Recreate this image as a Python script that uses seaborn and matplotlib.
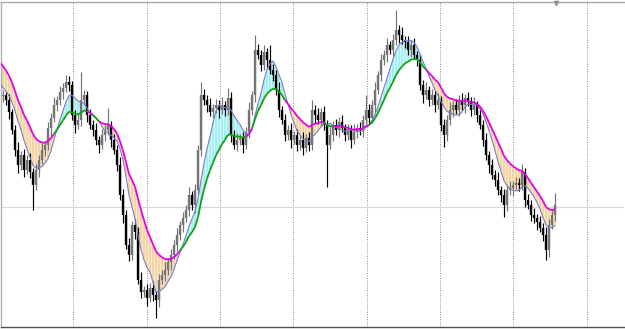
import numpy as np
import pandas as pd
import matplotlib
matplotlib.use("Agg")
import matplotlib.pyplot as plt
import seaborn as sns
from matplotlib.collections import LineCollection

# ---- data (price units) ----
prior_close = [312, 314, 310, 309, 313, 311, 308, 310, 306, 292, 276, 261, 254, 249, 244, 239, 236, 233]
close = [
    234, 229, 217, 199, 179, 164, 174, 159, 169, 157, 144, 159,
    169, 179, 184, 201, 211, 224, 229, 237, 241, 247, 244,
    214, 204, 209, 229, 234, 214, 204, 199, 189, 184, 194, 199, 204, 189, 179, 164, 134,
    114, 84, 74, 104, 97, 49, 37, 39, 31, 41, 34, 29,
    49, 54, 59, 67, 74, 84, 94, 104, 111, 119, 134, 124, 139, 179,
    234, 229, 224, 217, 221, 224, 219, 224, 219, 231, 194, 184, 189, 191, 184, 197,
    219, 234, 279, 274, 264, 277, 269, 259, 254, 239, 219, 209, 194,
    199, 189, 194, 184, 189, 181, 191, 184, 219, 214, 209, 217, 204, 184, 194, 204, 199, 207, 201, 194, 199, 189, 197, 201, 199,
    209, 219, 211, 224, 239, 254, 269, 274, 284, 279, 289, 299,
    294, 289, 287, 279, 284, 274, 269, 244, 234, 239, 229, 234, 224, 229, 204,
    194, 209, 219, 224, 219, 229, 224, 231, 227, 219, 224, 214, 204,
    189, 174, 164, 154, 149, 139, 134, 124, 139, 141, 144, 146, 144, 157, 129, 124, 114, 111, 107, 101, 94, 79, 104, 114, 124,
]
up_wick = [
    5, 4, 6, 3, 5, 8, 4, 6, 5, 7,
    4, 6, 5, 7, 4, 6, 5, 8, 4, 6,
    5, 7, 6, 4, 5, 6, 28, 5, 4, 6,
    5, 7, 4, 6, 5, 17, 4, 6, 5, 8,
    6, 5, 7, 4, 6, 5, 8, 4, 6, 5,
    7, 4, 6, 5, 8, 4, 6, 5, 7, 4,
    6, 5, 8, 4, 6, 5, 13, 6, 5, 7,
    4, 6, 5, 8, 4, 10, 6, 5, 7, 4,
    6, 5, 8, 4, 15, 6, 5, 7, 4, 15,
    6, 5, 8, 4, 6, 5, 7, 4, 6, 5,
    8, 4, 6, 10, 5, 7, 4, 6, 5, 8,
    4, 6, 5, 7, 4, 6, 5, 8, 4, 6,
    5, 15, 6, 5, 8, 4, 6, 5, 7, 4,
    6, 20, 5, 8, 4, 6, 5, 7, 4, 6,
    5, 8, 4, 6, 5, 7, 4, 6, 5, 8,
    4, 6, 5, 7, 4, 6, 5, 8, 4, 6,
    5, 7, 4, 6, 5, 8, 4, 6, 5, 7,
    4, 6, 5, 8, 4, 6, 5, 7, 4, 6,
    5, 8, 6, 5, 12,
]
down_wick = [
    6, 5, 7, 4, 6, 8, 5, 7, 4, 6,
    25, 5, 7, 4, 6, 5, 8, 4, 6, 5,
    7, 4, 6, 5, 8, 4, 6, 5, 7, 4,
    6, 5, 8, 4, 6, 5, 7, 4, 6, 5,
    8, 4, 6, 5, 7, 4, 6, 5, 8, 4,
    6, 18, 7, 4, 6, 5, 8, 4, 6, 5,
    7, 4, 6, 5, 8, 4, 6, 5, 7, 4,
    6, 5, 8, 4, 6, 5, 7, 4, 6, 5,
    8, 4, 6, 5, 7, 4, 6, 5, 8, 4,
    6, 5, 7, 4, 6, 5, 8, 4, 6, 5,
    7, 4, 6, 5, 8, 4, 6, 5, 42, 4,
    6, 5, 7, 4, 6, 5, 8, 4, 6, 5,
    7, 4, 6, 5, 8, 4, 6, 5, 7, 4,
    6, 5, 8, 4, 6, 5, 7, 4, 6, 5,
    8, 4, 6, 5, 7, 4, 6, 12, 6, 5,
    7, 4, 6, 5, 8, 4, 6, 5, 7, 4,
    6, 5, 8, 4, 6, 5, 7, 12, 6, 5,
    8, 4, 6, 5, 7, 4, 6, 5, 8, 4,
    6, 10, 7, 4, 6,
]
FAST_PERIOD = 7
SLOW_SPAN = 15
hline_price = 122

# ---- build frame ----
n_prior = len(prior_close)
all_close = prior_close + close
idx = np.arange(-n_prior + 1, len(close) + 1)
s = pd.Series(all_close, index=idx, dtype=float)
fast = s.rolling(FAST_PERIOD).mean()
slow = s.ewm(span=SLOW_SPAN, adjust=False).mean()

df = pd.DataFrame({"close": s, "open": s.shift(1), "fast": fast, "slow": slow})
bars = df.loc[1:].copy()
bars["up"] = up_wick
bars["down"] = down_wick
bars["high"] = bars[["open", "close"]].max(axis=1) + bars["up"]
bars["low"] = bars[["open", "close"]].min(axis=1) - bars["down"]

ma = df.loc[-1:].copy()
ma["x"] = ma.index.astype(float)

# ---- figure ----
sns.set_style("white")
fig = plt.figure(figsize=(6.25, 3.29), dpi=100)
ax = fig.add_axes([1.5 / 625, 2.5 / 329, 622.5 / 625, 325 / 329])
ax.set_xlim(0.5, 208)
ax.set_ylim(2.5, 327.5)

TAN_FILL = "#FCE8CC"
TAN_LINE = "#F2D09E"
CYAN_FILL = "#D2FAFA"
CYAN_LINE = "#98ECF0"

down_mask = (ma["slow"] >= ma["fast"]).values
ax.fill_between(ma["x"], ma["fast"], ma["slow"], where=down_mask, interpolate=True,
                color=TAN_FILL, lw=0, zorder=1)
ax.fill_between(ma["x"], ma["fast"], ma["slow"], where=~down_mask, interpolate=True,
                color=CYAN_FILL, lw=0, zorder=1)
ax.vlines(ma["x"][down_mask], ma["fast"][down_mask], ma["slow"][down_mask],
          color=TAN_LINE, lw=1.1, zorder=1.5)
ax.vlines(ma["x"][~down_mask], ma["fast"][~down_mask], ma["slow"][~down_mask],
          color=CYAN_LINE, lw=1.1, zorder=1.5)

# grid
for k in range(1, 9):
    ax.axvline(24.45 * k, color="#8C8C8C", lw=0.7, ls=(0, (1, 1.5)), zorder=0.5)
ax.axhline(hline_price, color="#D8D8D8", lw=0.9, zorder=0.6)

# candles
bull = bars["close"] >= bars["open"]
for mask, col in [(bull, "#747474"), (~bull, "#000000")]:
    b = bars[mask]
    ax.vlines(b.index, b["low"], b["high"], color=col, lw=0.85, zorder=3)
    ax.vlines(b.index, b["open"], b["close"], color=col, lw=1.7, zorder=3)

# fast MA
sns.lineplot(data=ma, x="x", y="fast", color="#7D7DC8", lw=0.8, ax=ax, zorder=4)

# slow MA with colour switch
xs = ma["x"].values
ys = ma["slow"].values
segs = [[(xs[i], ys[i]), (xs[i + 1], ys[i + 1])] for i in range(len(xs) - 1)]
cols = ["#E400E4" if down_mask[i + 1] else "#10A010" for i in range(len(xs) - 1)]
ax.add_collection(LineCollection(segs, colors=cols, lw=1.3, zorder=5))

# frame
ax.spines["right"].set_visible(False)
ax.spines["top"].set_color("#A8A8A8")
ax.spines["left"].set_color("#B0B0B0")
ax.spines["bottom"].set_color("#505050")
for sp in ax.spines.values():
    sp.set_linewidth(1.0)
ax.set_xticks([8.15 * k for k in range(1, 26)])
ax.set_xticklabels([])
ax.set_yticks([])
ax.tick_params(axis="x", direction="out", length=3, width=0.8, color="#505050")
ax.set_xlabel("")
ax.set_ylabel("")
ax.plot([556 / 3], [326.5], marker="v", color="#909090", ms=3, clip_on=False, zorder=6)

fig.savefig("out.png", dpi=100)
